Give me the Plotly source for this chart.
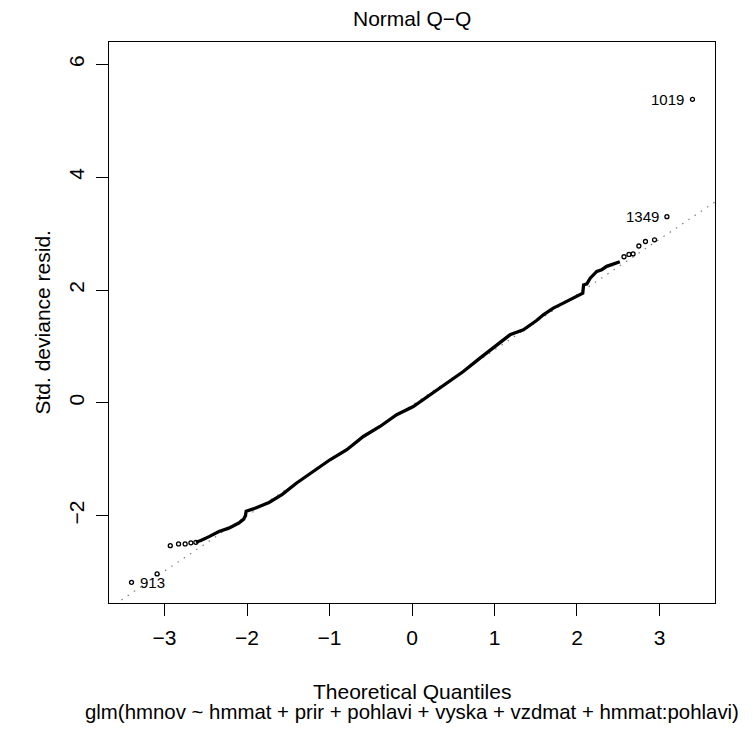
import plotly.graph_objects as go

# ---- data ----
# dense body of the Q-Q curve (theoretical quantile, std. deviance residual)
body_x = [-2.62, -2.56, -2.46, -2.34, -2.22, -2.10, -2.04, -2.02, -2.01, -1.895,
          -1.733, -1.572, -1.398, -1.196, -0.994, -0.79, -0.59, -0.388, -0.186,
          0.016, 0.218, 0.42, 0.622, 0.824, 1.026, 1.188, 1.35, 1.48, 1.51, 1.592,
          1.713, 1.834, 1.955, 2.05, 2.07, 2.08, 2.12, 2.16, 2.20, 2.24, 2.30,
          2.36, 2.42, 2.48, 2.52]
body_y = [-2.47, -2.44, -2.37, -2.28, -2.22, -2.13, -2.06, -2.00, -1.92, -1.863,
          -1.764, -1.62, -1.42, -1.215, -1.008, -0.83, -0.595, -0.418, -0.21,
          -0.064, 0.143, 0.35, 0.556, 0.793, 1.029, 1.206, 1.295, 1.42, 1.46, 1.56,
          1.679, 1.768, 1.856, 1.93, 1.945, 2.09, 2.11, 2.21, 2.27, 2.33, 2.36,
          2.42, 2.45, 2.48, 2.50]

# separated tail points
lo_x = [-3.40, -3.09, -2.93, -2.83, -2.75, -2.68, -2.62]
lo_y = [-3.18, -3.03, -2.53, -2.50, -2.50, -2.48, -2.47]
hi_x = [2.57, 2.63, 2.68, 2.75, 2.83, 2.94, 3.09, 3.40]
hi_y = [2.59, 2.63, 2.64, 2.78, 2.86, 2.89, 3.30, 5.38]

# identified observations
id_x = [3.40, 3.09, -3.40]
id_y = [5.38, 3.30, -3.18]
id_text = ["1019", "1349", "913"]
id_side = ["left", "left", "right"]

# reference line (qqline)
line_intercept = -0.04
line_slope = 0.98

x_ticks = [-3, -2, -1, 0, 1, 2, 3]
y_ticks = [-2, 0, 2, 4, 6]
x_range = [-3.673, 3.673]
y_range = [-3.546, 6.395]

title_text = "Normal Q\u2212Q"
xlab = "Theoretical Quantiles"
ylab = "Std. deviance resid."
sub = "glm(hmnov ~ hmmat + prir + pohlavi + vyska + vzdmat + hmmat:pohlavi)"

FONT = "Liberation Sans, Arial, Helvetica, sans-serif"
FS = 21


def fmt(v):
    return ("\u2212" + str(abs(v))) if v < 0 else str(v)


fig = go.Figure()

# dotted qq reference line across the plot region
fig.add_trace(go.Scatter(
    x=x_range,
    y=[line_intercept + line_slope * v for v in x_range],
    mode="lines",
    line=dict(color="#7f7f7f", width=1.2, dash="1.5px,6px"),
    hoverinfo="skip",
))

# dense body drawn as thick chain of overlapping circles
fig.add_trace(go.Scatter(
    x=body_x, y=body_y, mode="lines",
    line=dict(color="black", width=3.3),
))

# separate tail points as open circles
fig.add_trace(go.Scatter(
    x=lo_x + hi_x, y=lo_y + hi_y, mode="markers",
    marker=dict(symbol="circle-open", size=4, color="black",
                line=dict(width=1.3, color="black")),
))

for xv, yv, t, s in zip(id_x, id_y, id_text, id_side):
    fig.add_annotation(
        x=xv, y=yv, text=t, showarrow=False,
        xanchor="right" if s == "left" else "left",
        xshift=-6 if s == "left" else 6,
        font=dict(family=FONT, size=15, color="black"),
    )

# titles
fig.add_annotation(xref="paper", yref="paper", x=0.5, y=1, yshift=24,
                   text=title_text, showarrow=False, yanchor="middle",
                   font=dict(family=FONT, size=FS, color="black"))
fig.add_annotation(xref="paper", yref="paper", x=0.5, y=0, yshift=-88,
                   text=xlab, showarrow=False, yanchor="middle",
                   font=dict(family=FONT, size=FS, color="black"))
fig.add_annotation(xref="paper", yref="paper", x=0.5, y=0, yshift=-109,
                   text=sub, showarrow=False, yanchor="middle",
                   font=dict(family=FONT, size=20.4, color="black"))
fig.add_annotation(xref="paper", yref="paper", x=0, y=0.5, xshift=-67,
                   text=ylab, showarrow=False, xanchor="center",
                   textangle=-90,
                   font=dict(family=FONT, size=FS, color="black"))

axis_common = dict(
    showline=True, linecolor="black", linewidth=1, mirror=True,
    ticks="outside", ticklen=12, tickwidth=1, tickcolor="black",
    showgrid=False, zeroline=False,
    tickfont=dict(family=FONT, size=FS, color="black"),
)

# the page body adds an 8px offset, so the figure is 8px smaller on each side
fig.update_layout(
    width=745, height=723,
    margin=dict(l=101, r=38, t=34, b=128),
    paper_bgcolor="white", plot_bgcolor="white",
    showlegend=False,
    xaxis=dict(range=x_range, tickvals=x_ticks,
               ticktext=[fmt(v) for v in x_ticks],
               ticklabelstandoff=4, **axis_common),
    yaxis=dict(range=y_range, tickvals=y_ticks,
               ticktext=[fmt(v) for v in y_ticks],
               tickangle=-90, ticklabelstandoff=4, **axis_common),
)

fig.write_html("out.html")
